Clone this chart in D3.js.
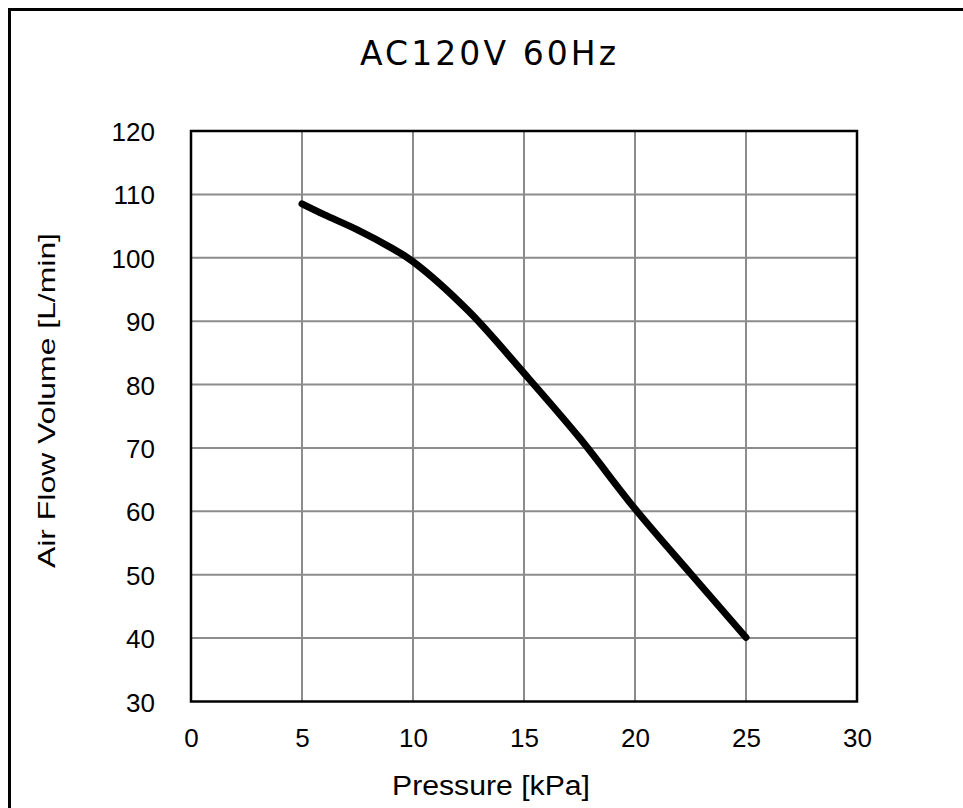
<!DOCTYPE html>
<html><head><meta charset="utf-8">
<script src="https://cdn.jsdelivr.net/npm/d3@7"></script>
<style>body{margin:0;background:#fff}svg{display:block}</style>
</head><body>
<svg id="c" width="963" height="808"></svg>
<script>
const pressure = [5, 6, 7.5, 9, 10, 12.5, 15, 17.5, 20, 22.5, 25];
const airflow  = [108.5, 106.8, 104.4, 101.6, 99.4, 91.6, 81.8, 71.6, 60.4, 50.2, 40.1];
const xTicks = [0, 5, 10, 15, 20, 25, 30];
const yTicks = [30, 40, 50, 60, 70, 80, 90, 100, 110, 120];
const title = "AC120V 60Hz";
const xLabel = "Pressure [kPa]";
const yLabel = "Air Flow Volume [L/min]";

const svg = d3.select("#c");
const font = "'Liberation Sans', Arial, sans-serif";
const m = {l: 191, r: 857, t: 131, b: 701.5};
const x = d3.scaleLinear().domain([0, 30]).range([m.l, m.r]);
const y = d3.scaleLinear().domain([30, 120]).range([m.b, m.t]);

svg.append("rect").attr("x", 9.5).attr("y", 9.5).attr("width", 1000).attr("height", 1000)
  .attr("fill", "#fff").attr("stroke", "#000").attr("stroke-width", 3);

// grid
svg.append("g").selectAll("line").data(xTicks.slice(1, -1)).join("line")
  .attr("x1", d => x(d)).attr("x2", d => x(d)).attr("y1", m.t).attr("y2", m.b)
  .attr("stroke", "#8c8c8c").attr("stroke-width", 2);
svg.append("g").selectAll("line").data(yTicks.slice(1, -1)).join("line")
  .attr("y1", d => y(d)).attr("y2", d => y(d)).attr("x1", m.l).attr("x2", m.r)
  .attr("stroke", "#8c8c8c").attr("stroke-width", 2);

// axes
const xAxis = svg.append("g").attr("transform", `translate(0,${m.b})`)
  .call(d3.axisBottom(x).tickValues(xTicks).tickSize(0).tickPadding(0));
xAxis.select(".domain").remove();
xAxis.selectAll("text").attr("font-family", font).attr("font-size", 26).attr("fill", "#000")
  .attr("dy", null).attr("y", 45);
const yAxis = svg.append("g").attr("transform", `translate(${m.l},0)`)
  .call(d3.axisLeft(y).tickValues(yTicks).tickSize(0).tickPadding(0));
yAxis.select(".domain").remove();
yAxis.selectAll("text").attr("font-family", font).attr("font-size", 26).attr("fill", "#000")
  .attr("dy", null).attr("x", -36).attr("y", 9.5);

// frame
svg.append("rect").attr("x", m.l).attr("y", m.t).attr("width", m.r - m.l).attr("height", m.b - m.t)
  .attr("fill", "none").attr("stroke", "#000").attr("stroke-width", 2.5);

// curve
const data = pressure.map((p, i) => [p, airflow[i]]);
svg.append("path").datum(data)
  .attr("d", d3.line().x(d => x(d[0])).y(d => y(d[1])).curve(d3.curveCatmullRom.alpha(0.5)))
  .attr("fill", "none").attr("stroke", "#000").attr("stroke-width", 7)
  .attr("stroke-linecap", "round").attr("stroke-linejoin", "round");

// labels
svg.append("text").attr("x", 488).attr("y", 65).attr("text-anchor", "middle")
  .attr("font-family", "'DejaVu Sans', sans-serif").attr("font-size", 33).attr("textLength", 256)
  .attr("lengthAdjust", "spacing").text(title);
svg.append("text").attr("x", 491).attr("y", 795).attr("text-anchor", "middle")
  .attr("font-family", font).attr("font-size", 27).attr("textLength", 198)
  .attr("lengthAdjust", "spacingAndGlyphs").text(xLabel);
svg.append("text").attr("transform", "translate(55,400.5) rotate(-90)").attr("text-anchor", "middle")
  .attr("font-family", font).attr("font-size", 24).attr("textLength", 335)
  .attr("lengthAdjust", "spacingAndGlyphs").text(yLabel);
</script>
</body></html>
